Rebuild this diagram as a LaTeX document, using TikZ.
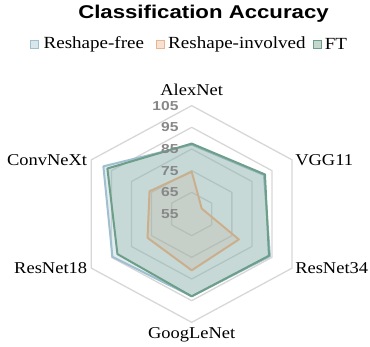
\documentclass[tikz,border=0pt]{standalone}
\usepackage{fontspec}
\setmainfont{Liberation Serif}[FakeStretch=1.12]
\newfontfamily\titlefont{Liberation Sans}[FakeStretch=1.2]
\newfontfamily\tickfont{Liberation Sans}[FakeStretch=1.2]
\usepackage{tikz}
\usetikzlibrary{positioning}

\definecolor{freeblue}{RGB}{160,192,208}
\definecolor{invorange}{RGB}{234,180,142}
\definecolor{ftgreen}{RGB}{108,158,136}
\definecolor{gridgray}{RGB}{215,215,215}
\definecolor{tickgray}{RGB}{135,135,135}

\tikzset{
  gridhex/.style={draw=gridgray, line width=1.3pt, line join=round},
  freeseries/.style={draw=freeblue, fill=freeblue, fill opacity=0.3, draw opacity=1, line width=2pt, line join=round},
  invseries/.style={draw=invorange, fill=invorange, fill opacity=0.2, draw opacity=1, line width=2pt, line join=round},
  ftseries/.style={draw=ftgreen, fill=ftgreen, fill opacity=0.24, draw opacity=1, line width=2pt, line join=round},
  axislabel/.style={font=\fontsize{16.5}{18}\selectfont, inner sep=0pt},
  ticklabel/.style={font=\tickfont\bfseries\fontsize{13}{14}\selectfont, text=tickgray, anchor=east, inner sep=0pt},
  legbox/.style={minimum size=8pt, inner sep=0pt, line width=0.8pt},
  legtext/.style={font=\fontsize{17}{19}\selectfont, inner sep=0pt}
}

\begin{document}
\begin{tikzpicture}[x=1pt, y=1pt]
\useasboundingbox (0,0) rectangle (370,347);

\node[font=\titlefont\bfseries\fontsize{18.5}{20}\selectfont] (title) at (203.5,333) {Classification Accuracy};

\node[legbox, draw=freeblue, fill=freeblue!40] (kfree) at (34.5,303) {};
\node[legtext, right=4.5pt of kfree] (tfree) {Reshape-free};
\node[legbox, draw=invorange, fill=invorange!40, right=12pt of tfree] (kinv) {};
\node[legtext, right=3pt of kinv] (tinv) {Reshape-involved};
\node[legbox, draw=ftgreen, fill=ftgreen!40, right=7pt of tinv] (kft) {};
\node[legtext, right=3pt of kft] (tft) {FT};

\begin{scope}[shift={(191.7,133)}, x=2.318pt, y=2.1667pt]
% radius = accuracy - 55
\draw[gridhex] (90:10) -- (30:10) -- (-30:10) -- (-90:10) -- (210:10) -- (150:10) -- cycle;
\draw[gridhex] (90:20) -- (30:20) -- (-30:20) -- (-90:20) -- (210:20) -- (150:20) -- cycle;
\draw[gridhex] (90:30) -- (30:30) -- (-30:30) -- (-90:30) -- (210:30) -- (150:30) -- cycle;
\draw[gridhex] (90:40) -- (30:40) -- (-30:40) -- (-90:40) -- (210:40) -- (150:40) -- cycle;
\draw[gridhex] (90:50) -- (30:50) -- (-30:50) -- (-90:50) -- (210:50) -- (150:50) -- cycle;

\coordinate (alex) at (90:50);
\coordinate (vgg) at (30:50);
\coordinate (res34) at (-30:50);
\coordinate (goog) at (-90:50);
\coordinate (res18) at (210:50);
\coordinate (convn) at (150:50);

\draw[freeseries] (90:32) -- (30:36) -- (-30:39) -- (-90:38) -- (210:39.5) -- (150:44) -- cycle;
\draw[invseries] (90:19.5) -- (30:5) -- (-30:23.5) -- (-90:26) -- (210:22) -- (150:21) -- cycle;
\draw[ftseries] (90:32.5) -- (30:36.5) -- (-30:38.5) -- (-90:38) -- (210:37) -- (150:42) -- cycle;

\node[ticklabel] (t55) at ([xshift=-13pt]0,0) {55};
\node[ticklabel] (t65) at ([xshift=-13pt]90:10) {65};
\node[ticklabel] (t75) at ([xshift=-13pt]90:20) {75};
\node[ticklabel] (t85) at ([xshift=-13pt]90:30) {85};
\node[ticklabel] (t95) at ([xshift=-13pt]90:40) {95};
\node[ticklabel] (t105) at ([xshift=-13pt]90:50) {105};
\end{scope}

\node[axislabel, above=10pt of alex] (lalex) {AlexNet};
\node[axislabel, right=3pt of vgg] (lvgg) {VGG11};
\node[axislabel, right=3pt of res34] (lres34) {ResNet34};
\node[axislabel, below=5pt of goog] (lgoog) {GoogLeNet};
\node[axislabel, left=4pt of res18] (lres18) {ResNet18};
\node[axislabel, left=4pt of convn] (lconvn) {ConvNeXt};
\end{tikzpicture}
\end{document}
